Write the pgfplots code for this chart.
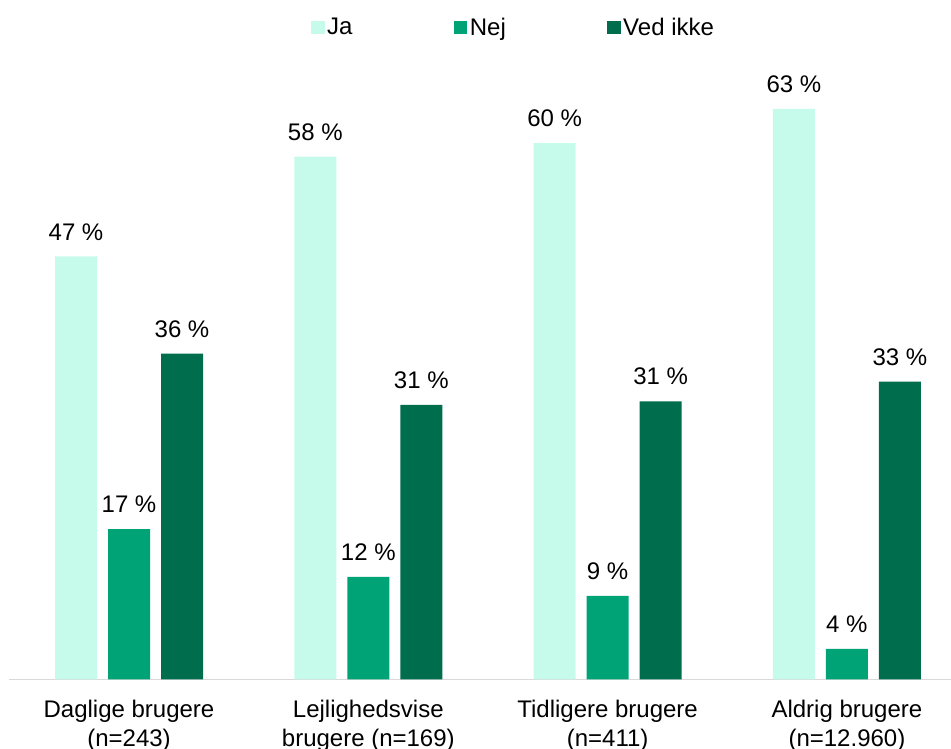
\documentclass[border=0pt]{standalone}
\usepackage{fontspec}
\setmainfont{Liberation Sans}
\usepackage{pgfplots}
\pgfplotsset{compat=1.18}
\usepackage{pgfplotstable}
\definecolor{cJa}{HTML}{C6FAEB}
\definecolor{cNej}{HTML}{00A376}
\definecolor{cVed}{HTML}{006D4D}
\definecolor{cAx}{HTML}{D9D9D9}
\pgfplotstableread{
x ja jal nej nejl ved vedl
0 47.0 47 16.7 17 36.2 36
1 58.1 58 11.4 12 30.5 31
2 59.6 60 9.3 9 30.9 31
3 63.4 63 3.4 4 33.1 33
}\data
\begin{document}
\begin{tikzpicture}
\begin{axis}[
  /pgf/number format/assume math mode=true,
  scale only axis,
  width=706.5pt, height=472.1pt,
  xmin=-0.5015, xmax=3.435,
  ymin=0, ymax=69.94,
  axis x line*=bottom,
  axis y line=none,
  x axis line style={-, draw=cAx, line width=1.2pt},
  xtick={0,1,2,3},
  xticklabels={{Daglige brugere\\(n=243)},{Lejlighedsvise\\brugere (n=169)},{Tidligere brugere\\(n=411)},{Aldrig brugere\\(n=12.960)}},
  xticklabel style={align=center, font=\fontsize{18}{22}\selectfont, inner sep=0pt, yshift=-15pt},
  major tick length=0pt,
  ybar,
  bar width=31.5pt,
  nodes near coords={\pgfmathprintnumber[fixed,precision=0,assume math mode=true]{\pgfplotspointmeta}~\%},
  every node near coord/.append style={font=\fontsize{18}{22}\selectfont, inner sep=0pt, yshift=12pt, text=black},
  point meta=explicit,
  clip=false,
  legend columns=3,
  legend style={at={(0.536,1)}, anchor=center, yshift=17pt, draw=none, fill=none,
    font=\fontsize{18}{22}\selectfont,
    /tikz/every even column/.append style={column sep=74pt}},
  legend image code/.code={\fill[#1] (0pt,-5pt) rectangle (10pt,5pt);},
]
\addplot[fill=cJa, draw=none, bar shift=-39.75pt] table[x=x, y=ja, meta=jal] {\data};
\addplot[fill=cNej, draw=none, bar shift=0pt] table[x=x, y=nej, meta=nejl] {\data};
\addplot[fill=cVed, draw=none, bar shift=39.75pt] table[x=x, y=ved, meta=vedl] {\data};
\legend{Ja, Nej, Ved ikke}
\end{axis}
\pgfresetboundingbox
\path[use as bounding box] ([xshift=-6.75pt, yshift=-52.1pt]current axis.south west) rectangle ([yshift=37.5pt]current axis.north east);
\end{tikzpicture}
\end{document}
